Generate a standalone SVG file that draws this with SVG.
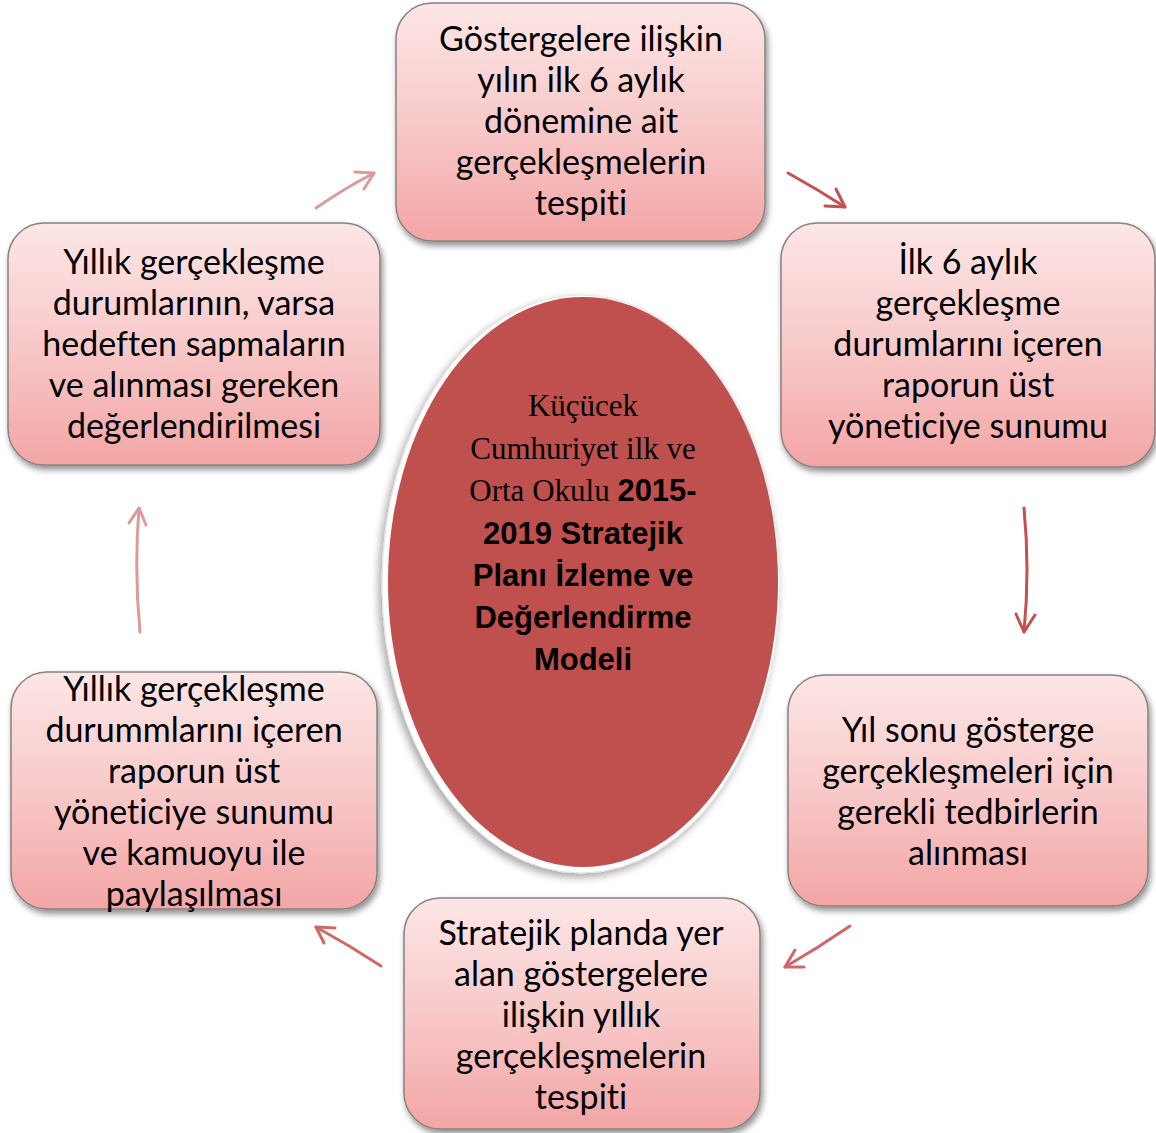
<svg xmlns="http://www.w3.org/2000/svg" width="1156" height="1133" viewBox="0 0 1156 1133">
<defs>
<linearGradient id="boxg" x1="0" y1="0" x2="0" y2="1">
<stop offset="0" stop-color="#fde6e6"/>
<stop offset="0.5" stop-color="#f8c9c9"/>
<stop offset="1" stop-color="#f3a5a5"/>
</linearGradient>
<filter id="sh" x="-10%" y="-10%" width="125%" height="125%">
<feGaussianBlur in="SourceAlpha" stdDeviation="3"/>
<feOffset dx="2" dy="4" result="b"/>
<feComponentTransfer><feFuncA type="linear" slope="0.45"/></feComponentTransfer>
<feMerge><feMergeNode/><feMergeNode in="SourceGraphic"/></feMerge>
</filter>
<filter id="glow" x="-10%" y="-10%" width="120%" height="120%">
<feGaussianBlur in="SourceAlpha" stdDeviation="4"/>
<feOffset dx="-3" dy="4"/>
<feComponentTransfer><feFuncA type="linear" slope="0.35"/></feComponentTransfer>
<feMerge><feMergeNode/><feMergeNode in="SourceGraphic"/></feMerge>
</filter>
</defs>
<style>
.box{fill:url(#boxg);stroke:#8a8080;stroke-width:1.5;filter:url(#sh)}
.t{font-family:Lato,"Open Sans",sans-serif;font-size:34px;fill:#000;text-anchor:middle;font-variant-ligatures:none;font-feature-settings:"liga" 0}
.c{font-family:"Liberation Serif",serif;font-size:31px;fill:#000}
.cb{font-family:"Liberation Sans",Arial,sans-serif;font-size:31px;font-weight:bold;fill:#000}
.m{text-anchor:middle}
.a1{fill:none;stroke:#dc9a9a;stroke-width:3;stroke-linecap:round;stroke-linejoin:round}
.a2{fill:none;stroke:#c5514f;stroke-width:3;stroke-linecap:round;stroke-linejoin:round}
.a3{fill:none;stroke:#d06868;stroke-width:3;stroke-linecap:round;stroke-linejoin:round}
</style>
<rect width="1156" height="1133" fill="#fff"/>

<g id="center">
<ellipse cx="581" cy="584" rx="199" ry="289" fill="#fff" stroke="#e6e0e0" stroke-width="1" filter="url(#glow)"/>
<ellipse cx="583" cy="582" rx="195" ry="285" fill="#c0504d"/>
<text class="c m" x="583" y="416">Küçücek</text>
<text class="c m" x="583" y="459">Cumhuriyet ilk ve</text>
<text class="m" x="583" y="501"><tspan class="c">Orta Okulu </tspan><tspan class="cb">2015-</tspan></text>
<text class="cb m" x="583" y="544">2019 Stratejik</text>
<text class="cb m" x="583" y="586">Planı İzleme ve</text>
<text class="cb m" x="583" y="628">Değerlendirme</text>
<text class="cb m" x="583" y="670">Modeli</text>
</g>

<g id="n1">
<rect class="box" x="396" y="3" width="369" height="238" rx="36"/>
<text class="t" x="581" y="51">Göstergelere ilişkin</text>
<text class="t" x="581" y="92">yılın ilk 6 aylık</text>
<text class="t" x="581" y="133">dönemine ait</text>
<text class="t" x="581" y="174">gerçekleşmelerin</text>
<text class="t" x="581" y="215">tespiti</text>
</g>

<g id="n2">
<rect class="box" x="781" y="223" width="374" height="244" rx="36"/>
<text class="t" x="968" y="274">İlk 6 aylık</text>
<text class="t" x="968" y="315">gerçekleşme</text>
<text class="t" x="968" y="356">durumlarını içeren</text>
<text class="t" x="968" y="397">raporun üst</text>
<text class="t" x="968" y="438">yöneticiye sunumu</text>
</g>

<g id="n3">
<rect class="box" x="788" y="675" width="360" height="231" rx="36"/>
<text class="t" x="968" y="742">Yıl sonu gösterge</text>
<text class="t" x="968" y="783">gerçekleşmeleri için</text>
<text class="t" x="968" y="824">gerekli tedbirlerin</text>
<text class="t" x="968" y="865">alınması</text>
</g>

<g id="n4">
<rect class="box" x="404" y="898" width="356" height="231" rx="36"/>
<text class="t" x="581" y="945">Stratejik planda yer</text>
<text class="t" x="581" y="986">alan göstergelere</text>
<text class="t" x="581" y="1027">ilişkin yıllık</text>
<text class="t" x="581" y="1068">gerçekleşmelerin</text>
<text class="t" x="581" y="1109">tespiti</text>
</g>

<g id="n5">
<rect class="box" x="11" y="672" width="366" height="237" rx="36"/>
<text class="t" x="194" y="701">Yıllık gerçekleşme</text>
<text class="t" x="194" y="742">durummlarını içeren</text>
<text class="t" x="194" y="783">raporun üst</text>
<text class="t" x="194" y="824">yöneticiye sunumu</text>
<text class="t" x="194" y="865">ve kamuoyu ile</text>
<text class="t" x="194" y="906">paylaşılması</text>
</g>

<g id="n6">
<rect class="box" x="8" y="223" width="372" height="242" rx="36"/>
<text class="t" x="194" y="274">Yıllık gerçekleşme</text>
<text class="t" x="194" y="315">durumlarının, varsa</text>
<text class="t" x="194" y="356">hedeften sapmaların</text>
<text class="t" x="194" y="397">ve alınması gereken</text>
<text class="t" x="194" y="438">değerlendirilmesi</text>
</g>

<g id="connectors">
<path class="a1" d="M316 208 Q345 188 374 173"/>
<path class="a1" d="M355 172 L374 173 L364 189"/>
<path class="a2" d="M788 173 Q817 189 845 207"/>
<path class="a2" d="M836 189 L845 207 L825 206"/>
<path class="a2" d="M1024 508 Q1030 570 1024 632"/>
<path class="a2" d="M1016 614 L1024 632 L1035 615"/>
<path class="a3" d="M850 926 Q818 948 785 967"/>
<path class="a3" d="M795 950 L785 967 L804 967"/>
<path class="a3" d="M381 966 Q349 945 316 927"/>
<path class="a3" d="M335 928 L316 927 L324 943"/>
<path class="a1" d="M140 632 Q134 570 139 508"/>
<path class="a1" d="M129 523 L139 508 L146 525"/>
</g>
</svg>
